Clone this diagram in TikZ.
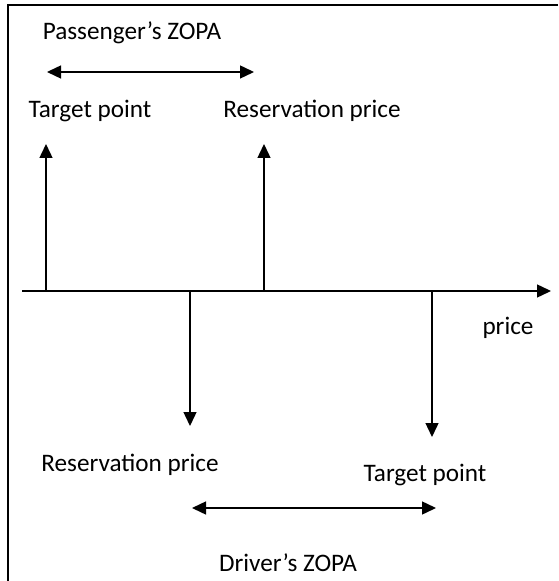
\documentclass[tikz,border=0pt]{standalone}
\usepackage{fontspec}
\setmainfont{Carlito}
\usetikzlibrary{arrows.meta}
\tikzset{
  label/.style={inner sep=0pt,font=\fontsize{12.6}{15}\selectfont},
  tick/.style={line width=0.7pt,-{Triangle[length=7pt,width=6.5pt]}},
  zopa/.style={line width=0.7pt,{Triangle[length=7pt,width=6.5pt]}-{Triangle[length=7pt,width=6.5pt]}}
}
\begin{document}
\begin{tikzpicture}
    [x=0.5pt,y=-0.5pt]
    \useasboundingbox (0,0) rectangle (558,581);
    % frame
    \draw[line width=1pt] (558,5) -- (8,5) -- (8,581);
    % price axis
    \coordinate (axisstart) at (22,291);
    \coordinate (axisend) at (551,291);
    \draw[tick] (axisstart) -- (axisend);
    \node[label] (price) at (508,328) {price};
    % passenger
    \node[label] (ptarget) at (90,111) {Target point};
    \node[label] (preserv) at (312,111) {Reservation price};
    \coordinate (ptbase) at (46,291);
    \coordinate (pttip) at (46,144);
    \coordinate (prbase) at (264,291);
    \coordinate (prtip) at (264,144);
    \draw[tick] (ptbase) -- (pttip);
    \draw[tick] (prbase) -- (prtip);
    \coordinate (pzleft) at (47,72);
    \coordinate (pzright) at (254,72);
    \draw[zopa] (pzleft) -- (pzright);
    \node[label] (pzopa) at (132,33) {Passenger’s ZOPA};
    % driver
    \node[label] (dreserv) at (130,465) {Reservation price};
    \node[label] (dtarget) at (425,475) {Target point};
    \coordinate (drbase) at (190,291);
    \coordinate (drtip) at (190,426);
    \coordinate (dtbase) at (432,291);
    \coordinate (dttip) at (432,437);
    \draw[tick] (drbase) -- (drtip);
    \draw[tick] (dtbase) -- (dttip);
    \coordinate (dzleft) at (192,508);
    \coordinate (dzright) at (436,508);
    \draw[zopa] (dzleft) -- (dzright);
    \node[label] (dzopa) at (288,563) {Driver’s ZOPA};
\end{tikzpicture}
\end{document}
